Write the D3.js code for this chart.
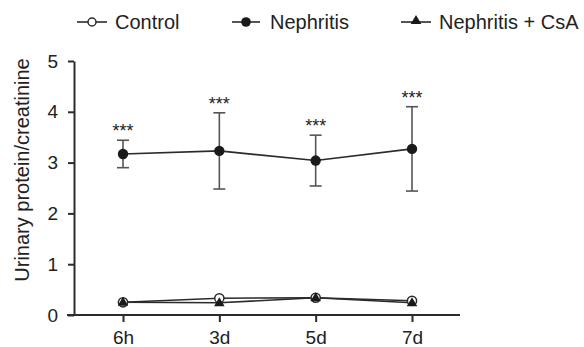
<!DOCTYPE html>
<html>
<head>
<meta charset="utf-8">
<script src="https://cdn.jsdelivr.net/npm/d3@7"></script>
<style>
  body { margin: 0; background: #fff; }
  svg { font-family: "Liberation Sans", Arial, Helvetica, sans-serif; }
  .axis path, .axis line { stroke: #2b2b2b; stroke-width: 2; }
  .axis text { fill: #222; font-size: 19px; }
</style>
</head>
<body>
<div id="chart"></div>
<script>
// data
const categories = ['6h', '3d', '5d', '7d'];
const control = [0.25, 0.33, 0.34, 0.28];
const nephritis = [3.17, 3.23, 3.04, 3.27];
const nephritisErr = [0.27, 0.75, 0.50, 0.83];
const nephritisCsA = [0.25, 0.24, 0.34, 0.24];
const yTicks = [0, 1, 2, 3, 4, 5];
const signif = ['***', '***', '***', '***'];

const width = 584, height = 347;
const ink = '#2b2b2b';

const svg = d3.select('#chart').append('svg')
  .attr('width', width)
  .attr('height', height);

const x = d3.scalePoint().domain(categories).range([123, 412]);
const y = d3.scaleLinear().domain([0, 5]).range([315, 61]);

// y axis
const yAxis = d3.axisLeft(y).tickValues(yTicks).tickFormat(d3.format('d'))
  .tickSize(6).tickPadding(10).tickSizeOuter(0);
svg.append('g')
  .attr('class', 'axis')
  .attr('transform', 'translate(74,0)')
  .call(yAxis);

// x axis (line runs a bit past the y axis, prism style)
const xAxis = d3.axisBottom(x).tickSize(7).tickPadding(9);
const gx = svg.append('g')
  .attr('class', 'axis')
  .attr('transform', 'translate(0,315)')
  .call(xAxis);
gx.select('.domain').attr('d', 'M67,0H460');

svg.append('text')
  .attr('transform', 'translate(29,170) rotate(-90)')
  .attr('text-anchor', 'middle')
  .attr('font-size', 20)
  .attr('fill', '#222')
  .text('Urinary protein/creatinine');

const line = d3.line().x((d, i) => x(categories[i])).y(d => y(d));

// error bars for nephritis
const eb = svg.append('g').attr('stroke', '#555').attr('stroke-width', 1.6);
nephritis.forEach((v, i) => {
  const cx = x(categories[i]);
  const top = y(v + nephritisErr[i]), bot = y(v - nephritisErr[i]);
  eb.append('line').attr('x1', cx).attr('x2', cx).attr('y1', top).attr('y2', bot);
  eb.append('line').attr('x1', cx - 6).attr('x2', cx + 6).attr('y1', top).attr('y2', top);
  eb.append('line').attr('x1', cx - 6).attr('x2', cx + 6).attr('y1', bot).attr('y2', bot);
});

svg.selectAll('.star')
  .data(signif)
  .enter().append('text')
  .attr('class', 'star')
  .attr('x', (d, i) => x(categories[i]))
  .attr('y', (d, i) => y(nephritis[i] + nephritisErr[i]) - 3)
  .attr('text-anchor', 'middle')
  .attr('font-size', 18)
  .attr('fill', '#222')
  .text(d => d);

// lines
[nephritis, control, nephritisCsA].forEach(s => {
  svg.append('path')
    .datum(s)
    .attr('d', line)
    .attr('fill', 'none')
    .attr('stroke', ink)
    .attr('stroke-width', 1.6);
});

const tri = d3.symbol().type(d3.symbolTriangle).size(48);

// markers
svg.selectAll('.neph')
  .data(nephritis)
  .enter().append('circle')
  .attr('cx', (d, i) => x(categories[i]))
  .attr('cy', d => y(d))
  .attr('r', 5.2)
  .attr('fill', '#1a1a1a');

svg.selectAll('.ctrl')
  .data(control)
  .enter().append('circle')
  .attr('cx', (d, i) => x(categories[i]))
  .attr('cy', d => y(d))
  .attr('r', 4.6)
  .attr('fill', '#fff')
  .attr('stroke', ink)
  .attr('stroke-width', 1.5);

svg.selectAll('.csa')
  .data(nephritisCsA)
  .enter().append('path')
  .attr('d', tri)
  .attr('transform', (d, i) => 'translate(' + x(categories[i]) + ',' + (y(d) + 0.5) + ')')
  .attr('fill', '#1a1a1a');

// legend
const legend = [
  { name: 'Control', x0: 77, x1: 107, text: 115, mark: 'open' },
  { name: 'Nephritis', x0: 232, x1: 260, text: 270, mark: 'dot' },
  { name: 'Nephritis + CsA', x0: 401, x1: 431, text: 439, mark: 'tri' }
];
const lg = svg.append('g');
legend.forEach(l => {
  const mx = (l.x0 + l.x1) / 2;
  lg.append('line').attr('x1', l.x0).attr('x2', l.x1).attr('y1', 22).attr('y2', 22)
    .attr('stroke', ink).attr('stroke-width', 1.6);
  if (l.mark === 'open') {
    lg.append('circle').attr('cx', mx).attr('cy', 22).attr('r', 4)
      .attr('fill', '#fff').attr('stroke', ink).attr('stroke-width', 1.5);
  } else if (l.mark === 'dot') {
    lg.append('circle').attr('cx', mx).attr('cy', 22).attr('r', 4.8).attr('fill', '#1a1a1a');
  } else {
    lg.append('path').attr('d', tri).attr('transform', 'translate(' + mx + ',21)').attr('fill', '#1a1a1a');
  }
  lg.append('text').attr('x', l.text).attr('y', 29).attr('font-size', 20).attr('fill', '#222').text(l.name);
});
</script>
</body>
</html>
